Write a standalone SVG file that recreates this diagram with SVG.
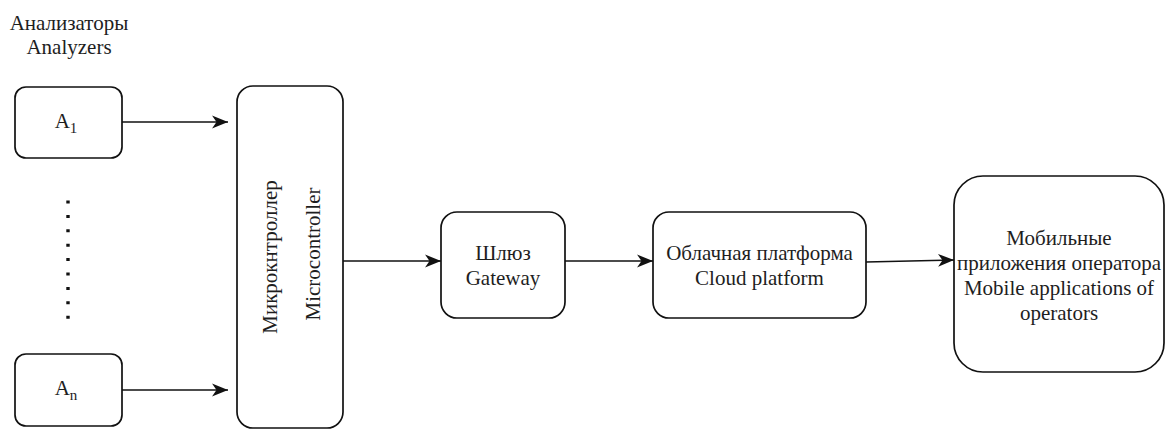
<svg xmlns="http://www.w3.org/2000/svg" width="1166" height="430" viewBox="0 0 1166 430">
<style>
.box{fill:#fff;stroke:#111;stroke-width:1.7}
.t{font-family:'Liberation Serif','DejaVu Serif',serif;font-size:21px;fill:#1e1e1e;text-anchor:middle}
.sub{font-size:15px}
.edge{fill:none;stroke:#111;stroke-width:1.7}
</style>
<defs>
<marker id="arr" markerUnits="userSpaceOnUse" markerWidth="18" markerHeight="14" refX="16" refY="7" orient="auto" viewBox="0 0 18 14">
<path d="M0,0.5 L16,7 L0,13.5 L4.5,7 Z" fill="#111"/>
</marker>
</defs>
<rect width="1166" height="430" fill="#fff"/>
<g id="label-analyzers">
<text class="t" x="69" y="30" font-family="Liberation Serif, serif">Анализаторы</text>
<text class="t" x="69" y="54" font-family="Liberation Serif, serif">Analyzers</text>
</g>
<g id="a1">
<rect class="box" x="15" y="87" width="107" height="71" rx="11"/>
<text class="t" x="66" y="128" font-family="Liberation Serif, serif">A<tspan class="sub" dy="5">1</tspan></text>
</g>
<g id="dots">
<line x1="68" y1="200.5" x2="68" y2="319" stroke="#111" stroke-width="3.4" stroke-dasharray="3 11.4"/>
</g>
<g id="an">
<rect class="box" x="15" y="354" width="107" height="72" rx="11"/>
<text class="t" x="66" y="395" font-family="Liberation Serif, serif">A<tspan class="sub" dy="5">n</tspan></text>
</g>
<g id="microcontroller">
<rect class="box" x="237" y="86" width="106" height="342" rx="16"/>
<text class="t" transform="translate(277,257) rotate(-90)" font-family="Liberation Serif, serif">Микрокнтроллер</text>
<text class="t" transform="translate(320,254) rotate(-90)" font-family="Liberation Serif, serif">Microcontroller</text>
</g>
<g id="gateway">
<rect class="box" x="441" y="212" width="124" height="106" rx="16"/>
<text class="t" x="503" y="260" font-family="Liberation Serif, serif">Шлюз</text>
<text class="t" x="503" y="285" font-family="Liberation Serif, serif">Gateway</text>
</g>
<g id="cloud">
<rect class="box" x="653" y="212" width="213" height="106" rx="16"/>
<text class="t" x="759.5" y="260" font-family="Liberation Serif, serif">Облачная платформа</text>
<text class="t" x="759.5" y="285" font-family="Liberation Serif, serif">Cloud platform</text>
</g>
<g id="mobile">
<rect class="box" x="954" y="176" width="210" height="196" rx="29"/>
<text class="t" x="1059" y="245" font-family="Liberation Serif, serif">Мобильные</text>
<text class="t" x="1059" y="270" font-family="Liberation Serif, serif">приложения оператора</text>
<text class="t" x="1059" y="295" font-family="Liberation Serif, serif">Mobile applications of</text>
<text class="t" x="1059" y="320" font-family="Liberation Serif, serif">operators</text>
</g>
<g id="connectors">
<path class="edge" d="M122,122 L228,122" marker-end="url(#arr)"/>
<path class="edge" d="M122,390 L228,390" marker-end="url(#arr)"/>
<path class="edge" d="M343,261 L441,261" marker-end="url(#arr)"/>
<path class="edge" d="M565,261 L653,261" marker-end="url(#arr)"/>
<path class="edge" d="M866,262 L954,260" marker-end="url(#arr)"/>
</g>
</svg>
